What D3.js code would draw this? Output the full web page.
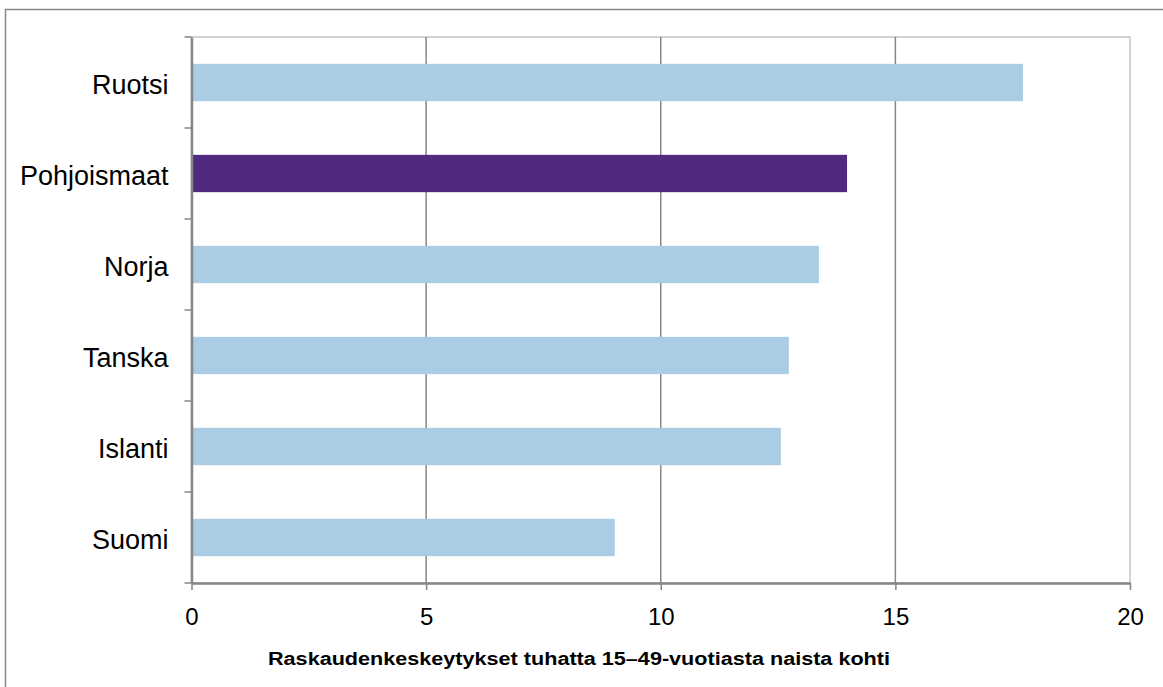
<!DOCTYPE html>
<html lang="fi">
<head>
<meta charset="utf-8">
<style>
    body { margin: 0; background: #fff; }
    svg text { font-family: "Liberation Sans", Arial, sans-serif; fill: #000; }
    .cat text { font-size: 27px; }
    .xax text { font-size: 24px; }
    .title { font-size: 18px; font-weight: bold; }
</style>
<script src="https://d3js.org/d3.v7.min.js"></script>
</head>
<body>
<svg width="1163" height="687"></svg>
<script>
    // data
    var countries = ["Ruotsi", "Pohjoismaat", "Norja", "Tanska", "Islanti", "Suomi"];
    var rates = [17.72, 13.97, 13.37, 12.73, 12.56, 9.02];
    var highlight = ["Pohjoismaat"];
    var xTicks = [0, 5, 10, 15, 20];
    var axisTitle = "Raskaudenkeskeytykset tuhatta 15–49-vuotiasta naista kohti";

    var svg = d3.select("svg");
    var plotLeft = 191.5, plotRight = 1130, plotTop = 37, plotBottom = 583;

    // outer chart frame
    svg.append("rect")
        .attr("x", 5.5).attr("y", 9.5)
        .attr("width", 1200).attr("height", 700)
        .attr("fill", "none").attr("stroke", "#888").attr("stroke-width", 1.5);

    var x = d3.scaleLinear().domain([0, 20]).range([plotLeft, plotRight]);
    var y = d3.scaleBand().domain(countries).range([plotTop, plotBottom])
        .paddingInner(0.59).paddingOuter(0.295);

    // plot frame (light)
    svg.append("rect")
        .attr("x", plotLeft).attr("y", plotTop)
        .attr("width", plotRight - plotLeft).attr("height", plotBottom - plotTop)
        .attr("fill", "none").attr("stroke", "#c4c4c4").attr("stroke-width", 1.5);

    // gridlines
    svg.append("g").selectAll("line")
        .data(xTicks.filter(function(t) { return t > 0 && t < 20; }))
        .enter().append("line")
        .attr("x1", function(d) { return x(d); })
        .attr("x2", function(d) { return x(d); })
        .attr("y1", plotTop).attr("y2", plotBottom)
        .attr("stroke", "#868686").attr("stroke-width", 1.5);

    // bars
    svg.append("g").selectAll("rect")
        .data(countries)
        .enter().append("rect")
        .attr("x", x(0))
        .attr("y", function(d) { return y(d); })
        .attr("height", y.bandwidth())
        .attr("width", function(d, i) { return x(rates[i]) - x(0); })
        .attr("fill", function(d) { return highlight.indexOf(d) >= 0 ? "#4f2a7e" : "#aacde5"; });

    // x axis
    var xAxis = svg.append("g")
        .attr("class", "xax")
        .attr("transform", "translate(0," + plotBottom + ")")
        .call(d3.axisBottom(x).tickValues(xTicks).tickSize(7).tickPadding(18).tickSizeOuter(0));
    xAxis.select(".domain").attr("stroke", "#868686").attr("stroke-width", 2.5);
    xAxis.selectAll(".tick line").attr("stroke", "#868686").attr("stroke-width", 1.5);
    xAxis.selectAll("text").attr("fill", "#000");

    // y axis with ticks between categories
    var yAxis = svg.append("g")
        .attr("class", "cat")
        .attr("transform", "translate(" + plotLeft + ",0)")
        .call(d3.axisLeft(y).tickSize(0).tickPadding(23));
    yAxis.select(".domain").attr("stroke", "#868686").attr("stroke-width", 2.5);
    yAxis.selectAll("text").attr("fill", "#000").attr("dy", "0.42em");

    var bounds = countries.map(function(d) { return y(d) - y.step() * y.paddingInner() / 2; });
    bounds.push(plotBottom);
    svg.append("g").selectAll("line")
        .data(bounds)
        .enter().append("line")
        .attr("x1", plotLeft - 7).attr("x2", plotLeft)
        .attr("y1", function(d) { return d; })
        .attr("y2", function(d) { return d; })
        .attr("stroke", "#868686").attr("stroke-width", 1.5);

    // axis title
    svg.append("text")
        .attr("class", "title")
        .attr("x", 268).attr("y", 665)
        .attr("textLength", 622)
        .attr("lengthAdjust", "spacingAndGlyphs")
        .text(axisTitle);
</script>
</body>
</html>
